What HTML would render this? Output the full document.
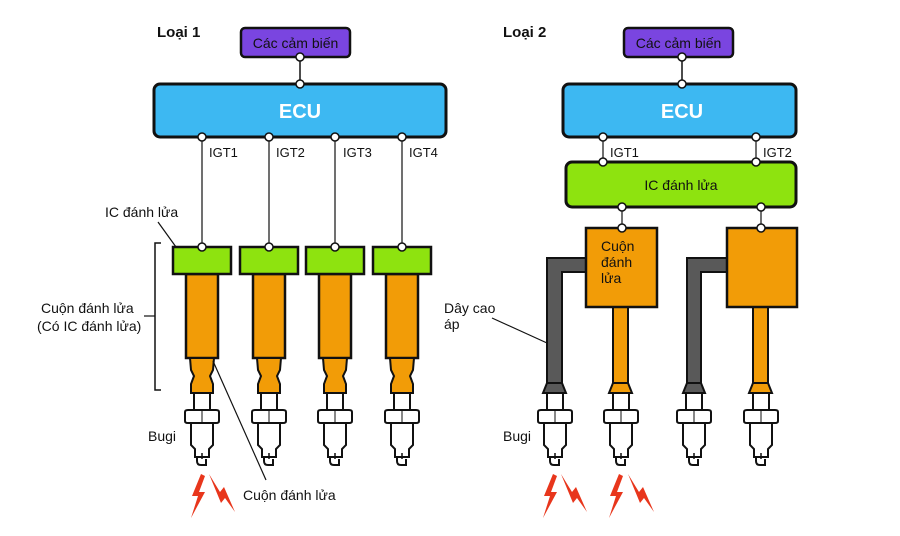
<!DOCTYPE html>
<html><head><meta charset="utf-8"><style>
html,body{margin:0;padding:0;background:#fff;}
svg{display:block;}
text{font-family:"Liberation Sans",Arial,sans-serif;fill:#111;}
</style></head><body>
<svg width="900" height="536" viewBox="0 0 900 536" xmlns="http://www.w3.org/2000/svg">
<defs>
<g id="plug" stroke="#111" stroke-width="2" fill="#fff">
  <path d="M-8,0 L8,0 L8,17 L-8,17 Z"/>
  <path d="M-17,19 Q-17,17 -14,17 L14,17 Q17,17 17,19 L17,28 Q17,30 14,30 L-14,30 Q-17,30 -17,28 Z"/>
  <line x1="0" y1="17" x2="0" y2="30" stroke-width="1"/>
  <path d="M-11,30 L11,30 L11,52 L7,56 L7,64 L-7,64 L-7,56 L-11,52 Z"/>
  <path d="M-5,64 L-5,68 Q-5,72 -1,72 L4,72 L4,66" fill="none" stroke-width="2"/>
  <line x1="0" y1="60" x2="0" y2="66" stroke-width="1.5"/>
</g>
<g id="bolt" fill="#e8361c">
  <path d="M0,0 L-9,22 L-3,22 L-10,44 L4,18 L-2,18 L4,2 Z"/>
</g>
<g id="bolt2" fill="#e8361c">
  <path d="M0,0 L11,18 L15,13 L26,38 L16,24 L12,29 Z"/>
</g>
</defs>

<!-- ================= LEFT (Loại 1) ================= -->
<text x="157" y="37" font-size="15" font-weight="bold">Loại 1</text>
<rect x="241" y="28" width="109" height="29" rx="4" fill="#7a45e0" stroke="#111" stroke-width="2.5"/>
<text x="295.5" y="48" font-size="14" text-anchor="middle">Các cảm biến</text>
<line x1="300" y1="57" x2="300" y2="84" stroke="#111" stroke-width="1.5"/>
<rect x="154" y="84" width="292" height="53" rx="6" fill="#3db8f2" stroke="#111" stroke-width="3"/>
<text x="300" y="118" font-size="20" font-weight="bold" text-anchor="middle" style="fill:#fff">ECU</text>
<circle cx="300" cy="57" r="4" fill="#fff" stroke="#111" stroke-width="1.5"/>
<circle cx="300" cy="84" r="4" fill="#fff" stroke="#111" stroke-width="1.5"/>

<g stroke="#111" stroke-width="1.2">
<line x1="202" y1="137" x2="202" y2="247"/>
<line x1="269" y1="137" x2="269" y2="247"/>
<line x1="335" y1="137" x2="335" y2="247"/>
<line x1="402" y1="137" x2="402" y2="247"/>
</g>
<g font-size="13">
<text x="209" y="157">IGT1</text>
<text x="276" y="157">IGT2</text>
<text x="343" y="157">IGT3</text>
<text x="409" y="157">IGT4</text>
</g>
<g fill="#fff" stroke="#111" stroke-width="1.5">
<circle cx="202" cy="137" r="4"/><circle cx="269" cy="137" r="4"/><circle cx="335" cy="137" r="4"/><circle cx="402" cy="137" r="4"/>
</g>

<g id="coil1">
  <use href="#plug" x="202" y="393"/>
  <rect x="186" y="274" width="32" height="84" fill="#f29c07" stroke="#111" stroke-width="2.5"/>
  <path d="M190,358 L214,358 L213,370 L210,376 L213,384 L213,393 L191,393 L191,384 L194,376 L191,370 Z" fill="#f29c07" stroke="#111" stroke-width="2"/>
  <rect x="173" y="247" width="58" height="27" fill="#8ee30f" stroke="#111" stroke-width="2.5"/>
  <circle cx="202" cy="247" r="4" fill="#fff" stroke="#111" stroke-width="1.5"/>
</g>
<use href="#coil1" x="67"/>
<use href="#coil1" x="133"/>
<use href="#coil1" x="200"/>

<use href="#bolt" x="201" y="474"/>
<use href="#bolt2" x="209" y="474"/>

<text x="105" y="217" font-size="14">IC đánh lửa</text>
<line x1="158" y1="222" x2="176" y2="247" stroke="#111" stroke-width="1.2"/>
<path d="M161,243 L155,243 L155,390 L161,390" fill="none" stroke="#111" stroke-width="1.5"/>
<text x="41" y="313" font-size="14">Cuộn đánh lửa</text>
<line x1="144" y1="316" x2="155" y2="316" stroke="#111" stroke-width="1.2"/>
<text x="37" y="331" font-size="14">(Có IC đánh lửa)</text>
<text x="148" y="441" font-size="14">Bugi</text>
<line x1="213" y1="361" x2="266" y2="480" stroke="#111" stroke-width="1.2"/>
<text x="243" y="500" font-size="14">Cuộn đánh lửa</text>

<!-- ================= RIGHT (Loại 2) ================= -->
<text x="503" y="37" font-size="15" font-weight="bold">Loại 2</text>
<rect x="624" y="28" width="109" height="29" rx="4" fill="#7a45e0" stroke="#111" stroke-width="2.5"/>
<text x="678.5" y="48" font-size="14" text-anchor="middle">Các cảm biến</text>
<line x1="682" y1="57" x2="682" y2="84" stroke="#111" stroke-width="1.5"/>
<rect x="563" y="84" width="233" height="53" rx="6" fill="#3db8f2" stroke="#111" stroke-width="3"/>
<text x="682" y="118" font-size="20" font-weight="bold" text-anchor="middle" style="fill:#fff">ECU</text>
<circle cx="682" cy="57" r="4" fill="#fff" stroke="#111" stroke-width="1.5"/>
<circle cx="682" cy="84" r="4" fill="#fff" stroke="#111" stroke-width="1.5"/>

<line x1="603" y1="137" x2="603" y2="162" stroke="#111" stroke-width="1.2"/>
<line x1="756" y1="137" x2="756" y2="162" stroke="#111" stroke-width="1.2"/>
<text x="610" y="157" font-size="13">IGT1</text>
<text x="763" y="157" font-size="13">IGT2</text>
<rect x="566" y="162" width="230" height="45" rx="6" fill="#8ee30f" stroke="#111" stroke-width="3"/>
<text x="681" y="190" font-size="14" text-anchor="middle">IC đánh lửa</text>
<g fill="#fff" stroke="#111" stroke-width="1.5">
<circle cx="603" cy="137" r="4"/><circle cx="756" cy="137" r="4"/>
<circle cx="603" cy="162" r="4"/><circle cx="756" cy="162" r="4"/>
</g>
<line x1="622" y1="207" x2="622" y2="228" stroke="#111" stroke-width="1.2"/>
<line x1="761" y1="207" x2="761" y2="228" stroke="#111" stroke-width="1.2"/>

<use href="#plug" x="555" y="393"/>
<use href="#plug" x="621" y="393"/>
<use href="#plug" x="694" y="393"/>
<use href="#plug" x="761" y="393"/>

<path d="M547,384 L547,258 L586,258 L586,272 L562,272 L562,384 Z" fill="#595959" stroke="#111" stroke-width="2"/>
<path d="M547,383 L562,383 L566,393 L543,393 Z" fill="#595959" stroke="#111" stroke-width="2"/>
<rect x="613" y="305" width="15" height="79" fill="#f29c07" stroke="#111" stroke-width="2"/>
<path d="M613,383 L628,383 L632,393 L609,393 Z" fill="#f29c07" stroke="#111" stroke-width="2"/>
<rect x="586" y="228" width="71" height="79" fill="#f29c07" stroke="#111" stroke-width="2.5"/>
<text x="601" y="251" font-size="14">Cuộn</text>
<text x="601" y="267" font-size="14">đánh</text>
<text x="601" y="283" font-size="14">lửa</text>

<path d="M687,384 L687,258 L727,258 L727,272 L701,272 L701,384 Z" fill="#595959" stroke="#111" stroke-width="2"/>
<path d="M687,383 L701,383 L705,393 L683,393 Z" fill="#595959" stroke="#111" stroke-width="2"/>
<rect x="753" y="305" width="15" height="79" fill="#f29c07" stroke="#111" stroke-width="2"/>
<path d="M753,383 L768,383 L772,393 L749,393 Z" fill="#f29c07" stroke="#111" stroke-width="2"/>
<rect x="727" y="228" width="70" height="79" fill="#f29c07" stroke="#111" stroke-width="2.5"/>

<g fill="#fff" stroke="#111" stroke-width="1.5">
<circle cx="622" cy="207" r="4"/><circle cx="761" cy="207" r="4"/>
<circle cx="622" cy="228" r="4"/><circle cx="761" cy="228" r="4"/>
</g>

<use href="#bolt" x="553" y="474"/>
<use href="#bolt2" x="561" y="474"/>
<use href="#bolt" x="619" y="474"/>
<use href="#bolt2" x="628" y="474"/>

<text x="444" y="313" font-size="14">Dây cao</text>
<text x="444" y="329" font-size="14">áp</text>
<line x1="492" y1="318" x2="547" y2="343" stroke="#111" stroke-width="1.2"/>
<text x="503" y="441" font-size="14">Bugi</text>
</svg>
</body></html>
